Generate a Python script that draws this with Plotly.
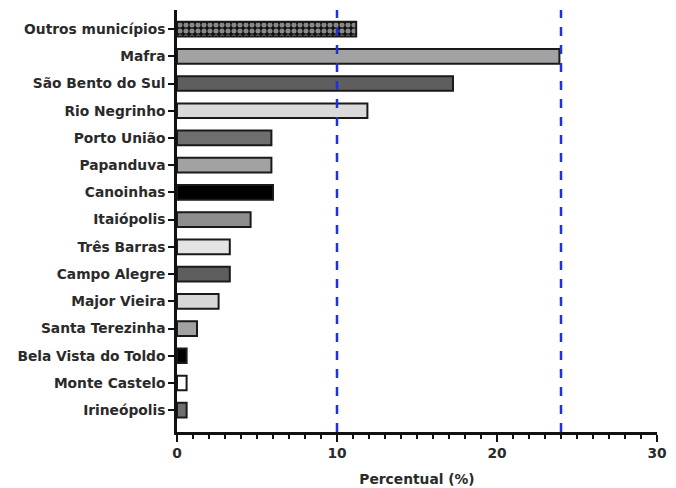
import plotly.graph_objects as go

# Municipalities, top to bottom as displayed
municipios = [
    "Outros municípios", "Mafra", "São Bento do Sul", "Rio Negrinho",
    "Porto União", "Papanduva", "Canoinhas", "Itaiópolis", "Três Barras",
    "Campo Alegre", "Major Vieira", "Santa Terezinha", "Bela Vista do Toldo",
    "Monte Castelo", "Irineópolis",
]
percentual = [11.2, 23.9, 17.25, 11.9, 5.9, 5.9, 6.0, 4.6, 3.3, 3.3, 2.6, 1.25, 0.6, 0.6, 0.6]
cores = [
    "#000000", "#a2a2a2", "#5e5e5e", "#dadada", "#6e6e6e", "#a2a2a2",
    "#000000", "#8e8e8e", "#e4e4e4", "#5e5e5e", "#d8d8d8", "#a2a2a2",
    "#000000", "#ffffff", "#6e6e6e",
]
referencias = [10, 24]

ordem = list(reversed(municipios))

fig = go.Figure()

# "Outros municípios" gets a dotted fill, the rest plain greys
fig.add_trace(go.Bar(
    y=municipios[:1], x=percentual[:1], orientation="h",
    marker=dict(
        color="#000000",
        line=dict(color="#1a1a1a", width=2),
        pattern=dict(shape=".", fgcolor="#ffffff", bgcolor="#111111", size=6, solidity=0.55),
    ),
    width=0.54, hoverinfo="x+y", showlegend=False,
))
fig.add_trace(go.Bar(
    y=municipios[1:], x=percentual[1:], orientation="h",
    marker=dict(color=cores[1:], line=dict(color="#1a1a1a", width=2)),
    width=0.54, hoverinfo="x+y", showlegend=False,
))

for v in referencias:
    fig.add_shape(type="line", xref="x", yref="paper", x0=v, x1=v, y0=0, y1=1,
                  line=dict(color="#1f2fe6", width=2.5, dash="dash"))

fig.update_layout(
    width=676, height=488,
    margin=dict(l=177, r=19, t=10, b=56),
    paper_bgcolor="white", plot_bgcolor="white",
    barmode="overlay",
    font=dict(family="DejaVu Sans, Verdana, sans-serif", size=13.8, color="#2a2a2a"),
)
fig.update_xaxes(
    automargin=False,
    range=[0, 30], tickvals=[0, 10, 20, 30], ticktext=["<b>0</b>", "<b>10</b>", "<b>20</b>", "<b>30</b>"],
    ticks="outside", ticklen=7, tickwidth=2, tickcolor="#111111",
    minor=dict(dtick=1, ticks="outside", ticklen=4, tickwidth=2, tickcolor="#111111"),
    showline=True, linecolor="#111111", linewidth=2.5, showgrid=False, zeroline=False,
    title=dict(text="<b>Percentual (%)</b>", font=dict(size=13.8)),
)
fig.update_yaxes(
    automargin=False,
    categoryorder="array", categoryarray=ordem, range=[-0.8, 14.7],
    tickvals=ordem, ticktext=[f"<b>{m}</b>" for m in ordem],
    ticks="outside", ticklen=6, tickwidth=2, tickcolor="#111111",
    showline=True, linecolor="#111111", linewidth=2.5, showgrid=False, zeroline=False,
)

fig.write_html("out.html")
